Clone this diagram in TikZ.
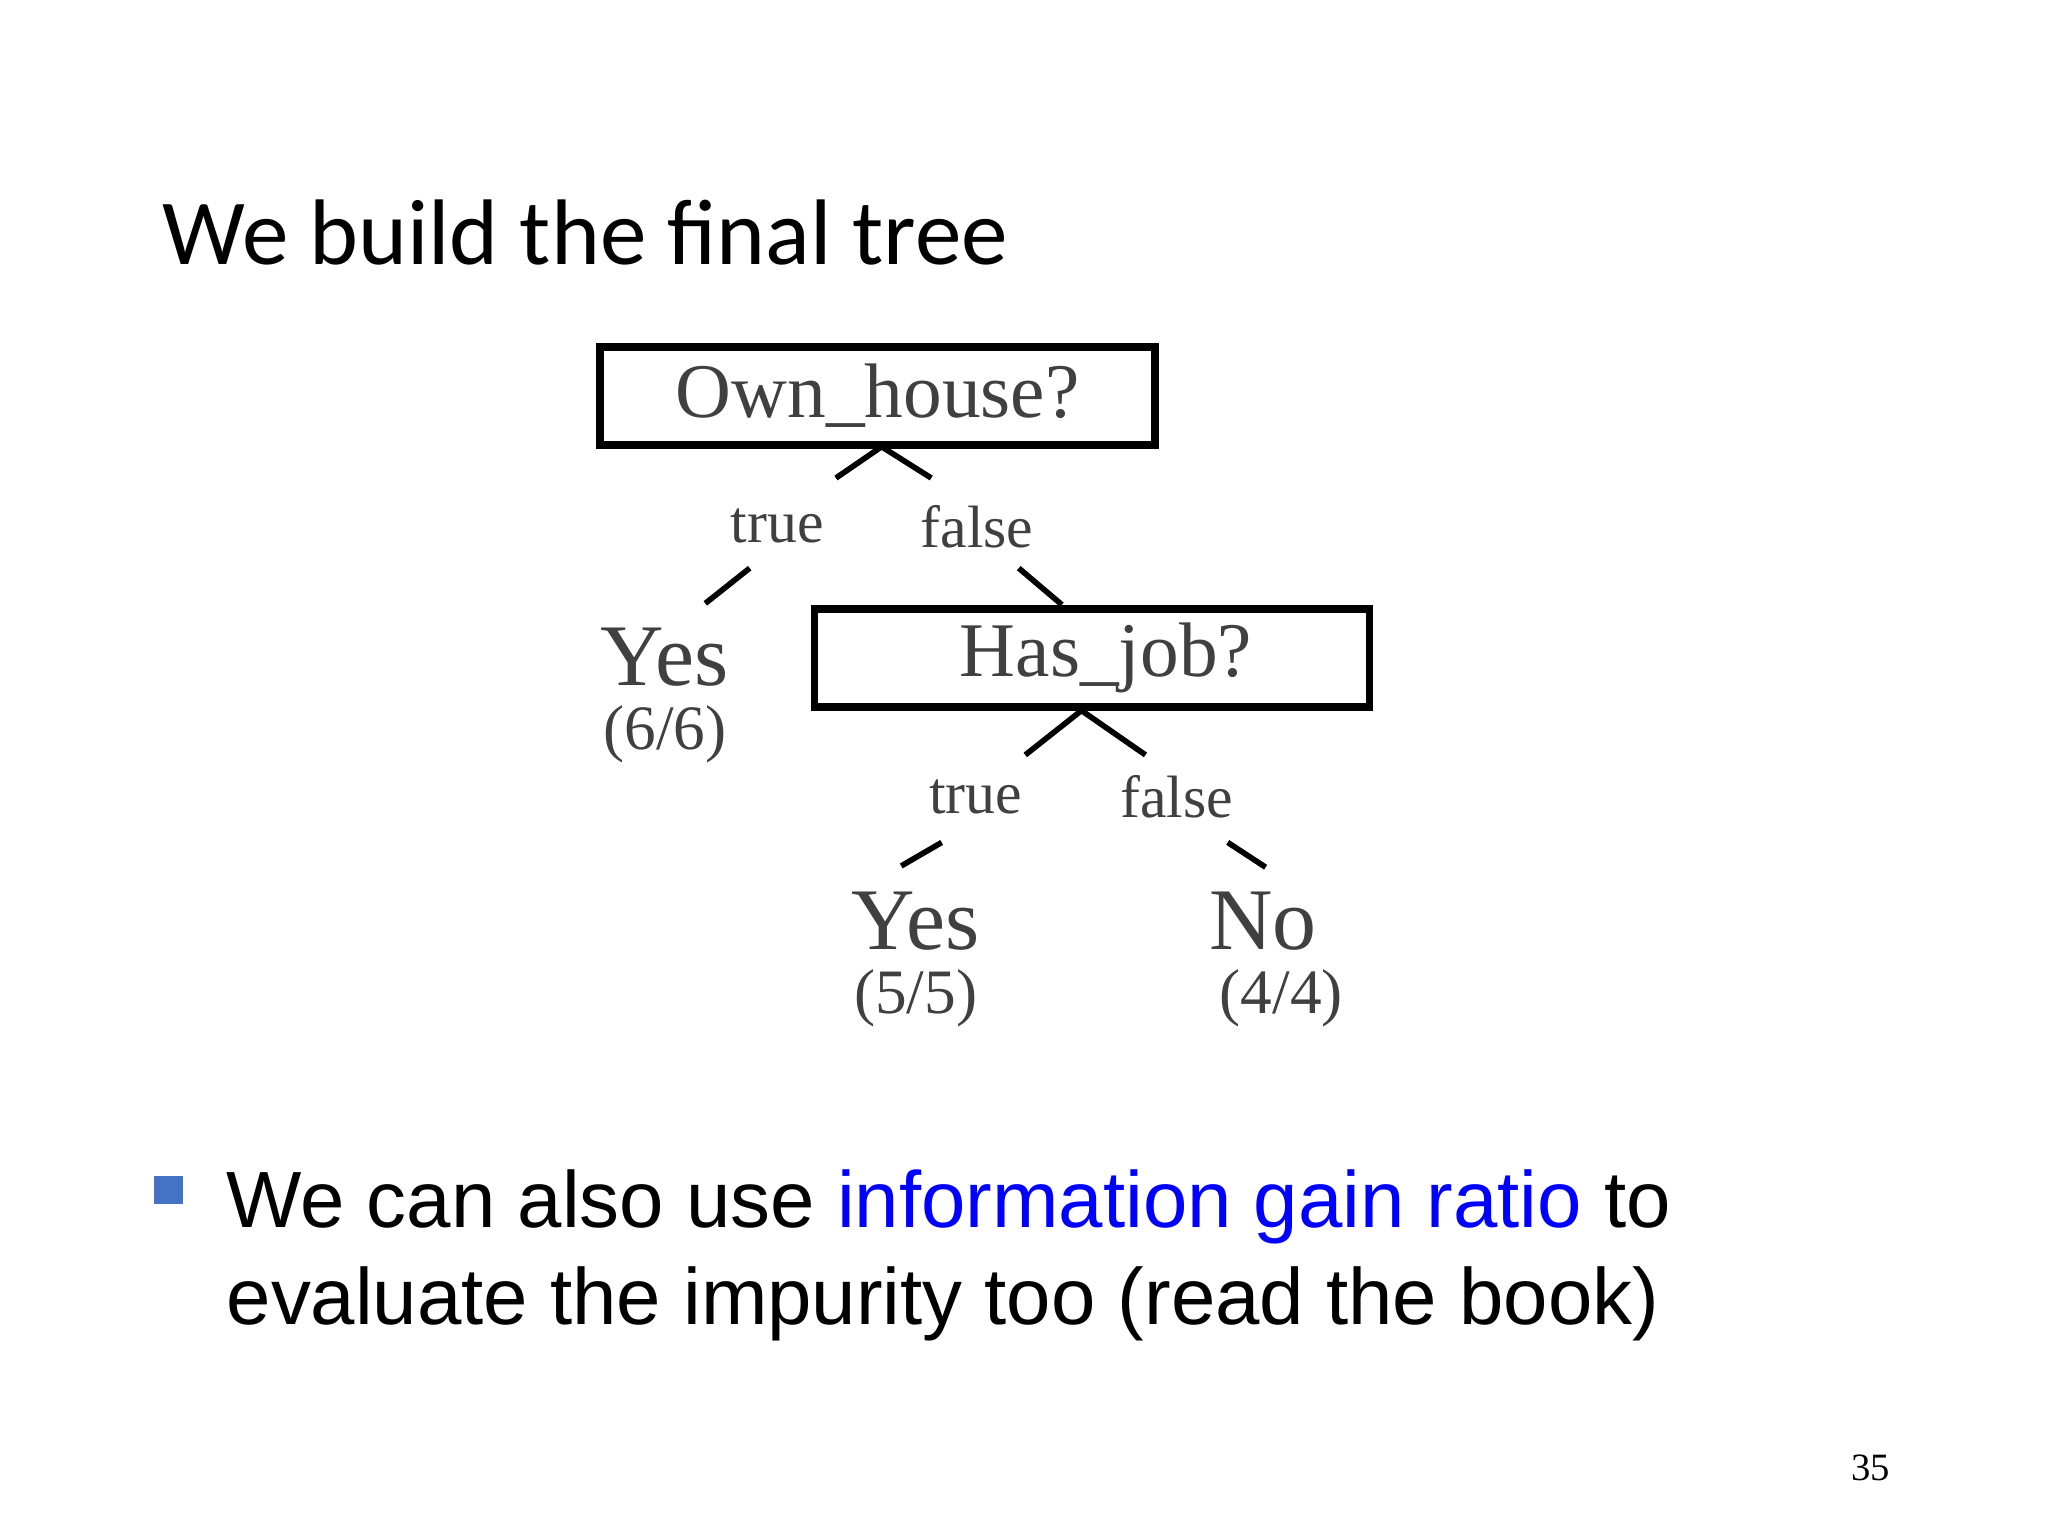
\documentclass[tikz,border=0pt]{standalone}
\usepackage{fontspec}
\setmainfont{Liberation Serif}
\newfontfamily\titlef{Carlito}
\newfontfamily\bodyf{Liberation Sans}
\begin{document}
\begin{tikzpicture}[x=0.01306cm,y=-0.01306cm,
  box/.style={draw,line width=2.2pt,minimum width=425*0.01306cm,minimum height=75*0.01306cm,inner sep=0pt,font=\fontsize{22}{24}\selectfont,text=black!75},
  big/.style={inner sep=0pt,font=\fontsize{25}{26}\selectfont,text=black!75},
  small/.style={inner sep=0pt,font=\fontsize{18}{20}\selectfont,text=black!75},
  lab/.style={inner sep=0pt,font=\fontsize{17}{18}\selectfont,text=black!75},
  seg/.style={line width=1.6pt}]
\useasboundingbox (0,0) rectangle (1568,1176);
\node[anchor=west,inner sep=0pt,font=\titlef\fontsize{26.5}{30}\selectfont] (title) at (124,178) {We build the final tree};
\node[box] (own) at (672,303) {Own\_house?};
\node[box] (job) at (836,504) {\hspace{8pt}Has\_job?};
\node[lab] (t1) at (595,403) {true};
\node[lab] (f1) at (748,403) {false};
\node[lab] (t2) at (747,610) {true};
\node[lab] (f2) at (901,610) {false};
\node[big] (y1) at (509,503) {Yes};
\node[small] (y1n) at (509,562) {(6/6)};
\node[big] (y2) at (701,705) {Yes};
\node[small] (y2n) at (701,764) {(5/5)};
\node[big] (n2) at (967,705) {No};
\node[small] (n2n) at (981,764) {(4/4)};
\coordinate (a0) at (675,342); \coordinate (a1) at (640,366); \coordinate (a2) at (713,366);
\coordinate (b1) at (540,462); \coordinate (b2) at (574,435);
\coordinate (c1) at (780,435); \coordinate (c2) at (813,463);
\coordinate (d0) at (828,544); \coordinate (d1) at (785,578); \coordinate (d2) at (877,578);
\coordinate (e1) at (690,663); \coordinate (e2) at (721,645);
\coordinate (g1) at (940,645); \coordinate (g2) at (969,664);
\draw[seg] (a1) -- (a0) -- (a2);
\draw[seg] (b1) -- (b2);
\draw[seg] (c1) -- (c2);
\draw[seg] (d1) -- (d0) -- (d2);
\draw[seg] (e1) -- (e2);
\draw[seg] (g1) -- (g2);
\fill[fill={rgb,255:red,68;green,114;blue,196}] (118,900) rectangle (140,922);
\node[anchor=north west,inner sep=0pt,align=left,font=\bodyf\fontsize{22.7}{27.7}\selectfont] (bul) at (173,895)
 {We can also use \textcolor{blue}{information gain ratio} to\\evaluate the impurity too (read the book)};
\node[font=\fontsize{11}{12}\selectfont] (pg) at (1432,1124) {35};
\end{tikzpicture}
\end{document}
